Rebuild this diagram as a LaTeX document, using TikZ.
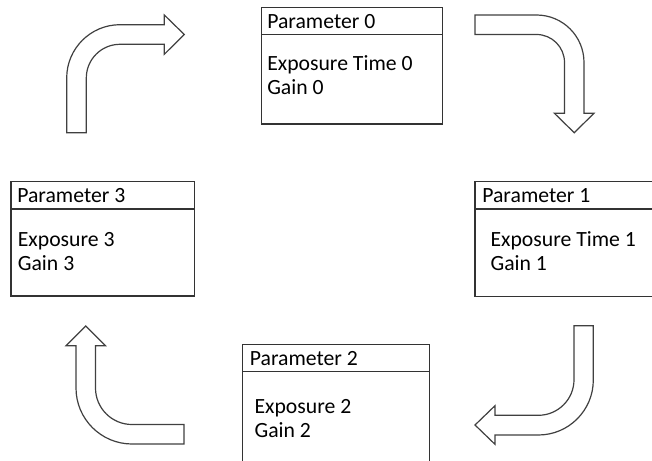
\documentclass[tikz,border=0pt]{standalone}
\usepackage{fontspec}
\setmainfont{Carlito}
\begin{document}
\begin{tikzpicture}[x=0.5pt,y=-0.5pt,line width=0.6pt,
    every node/.style={font=\fontsize{10.85}{12}\selectfont,inner sep=0pt,anchor=base west},
    parbox/.style={draw=black!80},
    bentarrow/.style={draw=black!75,fill=white,line join=miter}]
  \useasboundingbox (0,0) rectangle (652,460);
  \clip (0,0) rectangle (652,460);
  % parameter boxes
  \draw[parbox] (261.7,7.3) rectangle (442.7,124);
  \draw[parbox] (261.7,34.3) -- (442.7,34.3);
  \node (head0) at (266.7,28.3) {Parameter 0};
  \node (exp0) at (266.7,70.7) {Exposure Time 0};
  \node (gain0) at (266.7,94.5) {Gain 0};
  \draw[parbox] (475,181.7) rectangle (670,296.7);
  \draw[parbox] (475,209) -- (670,209);
  \node (head1) at (481.7,202.3) {Parameter 1};
  \node (exp1) at (490,246) {Exposure Time 1};
  \node (gain1) at (490,270) {Gain 1};
  \draw[parbox] (242.7,344.3) rectangle (429.3,480);
  \draw[parbox] (242.7,371.7) -- (429.3,371.7);
  \node (head2) at (249.3,365) {Parameter 2};
  \node (exp2) at (254,413.3) {Exposure 2};
  \node (gain2) at (254,437) {Gain 2};
  \draw[parbox] (11,181.7) rectangle (194.3,296);
  \draw[parbox] (11,209) -- (194.3,209);
  \node (head3) at (16.7,202.3) {Parameter 3};
  \node (exp3) at (17.3,246) {Exposure 3};
  \node (gain3) at (17.3,270) {Gain 3};
  % bent arrows between the boxes
  \draw[bentarrow] (66.7,132.7) -- (66.7,78) arc[start angle=180,end angle=270,radius=53.3]
    -- (164.3,24.7) -- (164.3,15) -- (184.3,34.5) -- (164.3,54.3) -- (164.3,44.3)
    -- (120,44.3) arc[start angle=270,end angle=180,radius=33.7] -- (86.3,132.7) -- cycle;
  \draw[bentarrow] (475,15) -- (536.5,15) arc[start angle=270,end angle=360,radius=47.5]
    -- (584,113.3) -- (594,113.3) -- (574.2,132.7) -- (554.4,113.3) -- (564.5,113.3)
    -- (564.5,62.5) arc[start angle=0,end angle=-90,radius=28] -- (475,34.5) -- cycle;
  \draw[bentarrow] (574,325.7) -- (593.3,325.7) -- (593.3,380) arc[start angle=0,end angle=90,radius=55]
    -- (495,435) -- (495,444.3) -- (475,425) -- (495,405.7) -- (495,415.3)
    -- (538.3,415.3) arc[start angle=90,end angle=0,radius=35.7] -- cycle;
  \draw[bentarrow] (184,424.5) -- (184,444) -- (132,444) arc[start angle=90,end angle=180,radius=56]
    -- (76,345.7) -- (66,345.7) -- (85.7,326) -- (105.5,345.7) -- (95.5,345.7)
    -- (95.5,388) arc[start angle=180,end angle=90,radius=36.5] -- cycle;
\end{tikzpicture}
\end{document}
